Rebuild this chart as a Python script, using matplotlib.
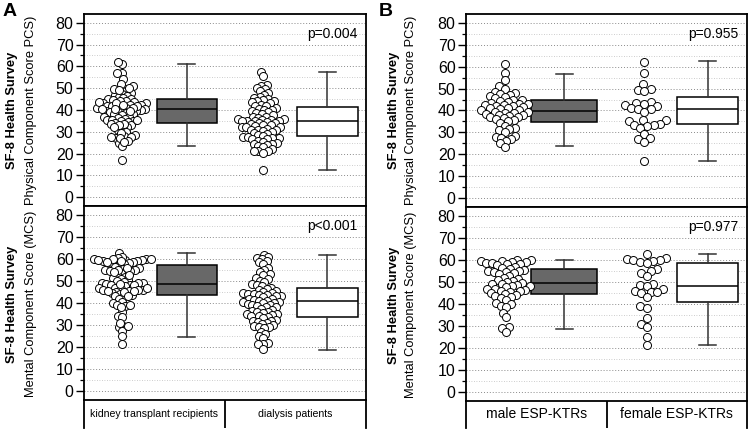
import numpy as np
import matplotlib
matplotlib.use("Agg")
import matplotlib.pyplot as plt
from matplotlib.ticker import MultipleLocator

plt.rcParams['font.family'] = ['Liberation Sans', 'DejaVu Sans']

# ---------------- data ----------------
male_pcs = [61, 57, 54, 51, 50, 48.5, 48, 47.5, 47, 46.5, 46, 45.5, 45, 45, 44.5, 44,
            43.5, 43, 43, 42.5, 42.5, 42, 42, 41.5, 41, 41, 40.5, 40, 40, 39.5, 39.5,
            39, 39, 38.5, 38, 38, 37.5, 37, 37, 36.5, 36, 35.5, 35, 34.5, 33, 32, 31.5,
            31, 30, 28.5, 28, 27.5, 27, 26, 25, 23.5]
female_pcs = [62, 57, 52, 50, 49.5, 49, 44, 43.5, 43, 42.5, 42, 41, 40.5, 40.5, 39.5,
              35.5, 35.5, 35, 34, 33.5, 33.5, 33, 32, 29.5, 27.5, 27, 25.5, 17]
male_mcs = [60, 60, 59.5, 59.5, 59, 59, 58.5, 58.5, 58, 58, 57.5, 57, 56.5, 56,
            55.5, 55, 55, 54.5, 54.5, 54, 53.5, 52.5, 52, 51.5, 51, 50.5, 50, 49.5,
            49, 49, 48.5, 48, 48, 47.5, 47, 47, 46.5, 46, 46, 45.5, 45, 44.5,
            44, 43.5, 43, 42.5, 42, 40.5, 40, 39, 38.5, 36, 34, 29.5, 29, 27.5]
female_mcs = [62.5, 61, 60.5, 60, 60, 59.5, 59, 58.5, 56, 55, 54, 52.5, 49, 48.5,
              48, 47, 46, 45.5, 45.5, 45, 43, 39, 38, 33.5, 31, 29.5, 25, 21.5]
dial_pcs = [57.5, 55.5, 51.5, 51, 50, 49.5, 48.5, 48, 47, 46, 45.5, 45,
            44.5, 44, 44, 43.5, 43, 42.5, 42, 42,
            41, 40.5, 40, 40, 39.5, 39, 38.5, 38, 37.5, 37, 37, 36.5, 36, 36, 35.5,
            35.5, 35, 35, 35, 35,
            34.5, 34, 34, 33.5, 33, 33, 32.5, 32, 32, 32, 31.5, 31, 31, 31, 30.5, 30,
            29.5, 29, 28.5, 28,
            27.5, 27.5, 27, 27, 26.5, 26.5, 26, 25.5, 25, 24.5, 24.5, 24, 23.5, 23, 22,
            21, 21, 21, 20.5, 12.5]
dial_mcs = [62, 61, 60.5, 60, 59, 58.5, 57.5, 56, 55, 54, 53, 52.5, 51.5, 51, 50, 49.5,
            48.5, 48, 47.5, 47,
            46.5, 46, 45.5, 45, 44.5, 44.5, 44, 44, 43.5, 43.5, 43, 43, 42.5, 42, 42,
            41.5, 41, 41, 40.5, 40.5,
            40, 40, 39.5, 39, 39, 38.5, 38, 38, 37.5, 37, 36.5, 36, 36, 35.5, 35, 35,
            34.5, 34, 34, 33.5,
            33, 32.5, 32, 32, 31.5, 31, 30.5, 30, 29.5, 29, 29, 28.5, 27, 26, 25, 24,
            22, 21.5, 21.5, 19]
ktr_pcs = male_pcs + female_pcs
ktr_mcs = male_mcs + female_mcs

# box statistics: whisker low, Q1, median, Q3, whisker high
ktr_pcs_box = [23.5, 34, 40.3, 45, 61]
dial_pcs_box = [12.5, 28, 34.8, 41.5, 57.5]
ktr_mcs_box = [24.7, 43.8, 48.6, 57.1, 62.8]
dial_mcs_box = [18.9, 33.8, 40.8, 46.9, 61.8]
male_pcs_box = [23.7, 34.9, 39.9, 44.9, 56.7]
female_pcs_box = [16.8, 33.8, 40.5, 46, 62.6]
male_mcs_box = [28.8, 44.6, 49.3, 56, 60]
female_mcs_box = [21.2, 41.1, 48.3, 58.8, 62.9]

cats_a = ['kidney transplant recipients', 'dialysis patients']
cats_b = ['male ESP-KTRs', 'female ESP-KTRs']
pvals = ['p=0.004', 'p<0.001', 'p=0.955', 'p=0.977']
ylab_bold = 'SF-8 Health Survey'
ylab_top = 'Physical Component Score PCS)'
ylab_bot = 'Mental Component Score (MCS)'

# ---------------- figure ----------------
W, H = 752, 434
fig = plt.figure(figsize=(W / 100, H / 100), dpi=100)


def rect(x0, x1, y0, y1):
    return [x0 / W, 1 - y1 / H, (x1 - x0) / W, (y1 - y0) / H]


GRAY = '#686868'
LW = 1.3
DIAM = 8.0  # marker diameter in px


def swarm_x(ax, vals, center, dmin):
    vals = np.asarray(vals, float)
    order = np.argsort(vals)
    cx_px = ax.transData.transform((center, 0))[0]
    ypx = ax.transData.transform(np.column_stack([np.full(len(vals), center), vals]))[:, 1]
    placed = []
    offs = np.zeros(len(vals))
    for i in order:
        y = ypx[i]
        cands = [0.0]
        for (px, py) in placed:
            dy = abs(y - py)
            if dy < dmin:
                dx = np.sqrt(dmin * dmin - dy * dy)
                cands += [px - dx, px + dx]
        cands.sort(key=abs)
        for c in cands:
            ok = True
            for (px, py) in placed:
                if (c - px) ** 2 + (y - py) ** 2 < dmin * dmin - 1e-6:
                    ok = False
                    break
            if ok:
                break
        placed.append((c, y))
        offs[i] = c
    pts = np.column_stack([cx_px + offs, ypx])
    return ax.transData.inverted().transform(pts)


def draw(ax, groups, boxes, swarm_pos, box_pos, box_w, dmins, ptxt):
    ax.set_xlim(0, 2)
    ax.set_ylim(-4, 84)
    ax.yaxis.set_major_locator(MultipleLocator(10))
    ax.yaxis.set_minor_locator(MultipleLocator(5))
    ax.tick_params(axis='y', which='major', length=5.5, width=1.0, labelsize=11.5, pad=2)
    ax.tick_params(axis='y', which='minor', length=3, width=0.9)
    ax.grid(axis='y', which='major', ls=(0, (1, 2)), color='#8a8a8a', lw=0.7)
    ax.grid(axis='y', which='minor', ls=(0, (1, 2)), color='#bdbdbd', lw=0.6)
    ax.set_axisbelow(True)
    for s in ax.spines.values():
        s.set_linewidth(LW)
    stats = [dict(whislo=b[0], q1=b[1], med=b[2], q3=b[3], whishi=b[4], fliers=[]) for b in boxes]
    bp = ax.bxp(stats, positions=box_pos, widths=box_w, patch_artist=True, showfliers=False,
                capwidths=0.12, manage_ticks=False,
                boxprops=dict(edgecolor='black', linewidth=1.1),
                medianprops=dict(color='black', linewidth=1.1),
                whiskerprops=dict(color='#333333', linewidth=1.1),
                capprops=dict(color='#333333', linewidth=1.1))
    bp['boxes'][0].set_facecolor(GRAY)
    bp['boxes'][1].set_facecolor('white')
    ax.set_xticks([])
    ax.set_xlim(0, 2)
    for vals, c, d in zip(groups, swarm_pos, dmins):
        xy = swarm_x(ax, vals, c, d)
        ax.scatter(xy[:, 0], xy[:, 1], s=(DIAM * 0.72) ** 2, facecolor='white',
                   edgecolor='black', linewidths=0.7, zorder=3)
    ax.text(1.94, 75, ptxt, ha='right', va='center', fontsize=10)


def strip(x0, x1, y0, y1, cats, fs):
    ax = fig.add_axes(rect(x0, x1, y0, y1))
    ax.set_xlim(0, 2)
    ax.set_ylim(0, 1)
    ax.set_xticks([])
    ax.set_yticks([])
    ax.spines['top'].set_visible(False)
    ax.spines['bottom'].set_visible(False)
    for s in ('left', 'right'):
        ax.spines[s].set_linewidth(LW)
    ax.axvline(1, color='black', lw=LW)
    for i, c in enumerate(cats):
        ax.text(i + 0.5, 0.5, c, ha='center', va='center', fontsize=fs)
    ax.patch.set_alpha(0)


# Panel A
axA1 = fig.add_axes(rect(84, 366, 14, 206))
axA2 = fig.add_axes(rect(84, 366, 206, 400))
draw(axA1, [ktr_pcs, dial_pcs], [ktr_pcs_box, dial_pcs_box], [0.27, 1.27], [0.73, 1.725],
     [0.43, 0.43], [4.6, 4.8], pvals[0])
draw(axA2, [ktr_mcs, dial_mcs], [ktr_mcs_box, dial_mcs_box], [0.27, 1.27], [0.73, 1.725],
     [0.43, 0.43], [4.6, 4.8], pvals[1])
strip(84, 366, 400, 428, cats_a, 7.6)

# Panel B
axB1 = fig.add_axes(rect(466, 747, 14, 207))
axB2 = fig.add_axes(rect(466, 747, 207, 401))
draw(axB1, [male_pcs, female_pcs], [male_pcs_box, female_pcs_box], [0.275, 1.27], [0.70, 1.72],
     [0.47, 0.43], [5.6, 6.8], pvals[2])
draw(axB2, [male_mcs, female_mcs], [male_mcs_box, female_mcs_box], [0.285, 1.285], [0.70, 1.72],
     [0.47, 0.43], [5.6, 6.8], pvals[3])
strip(466, 747, 401, 428, cats_b, 10)

# y-axis labels
for xb, xn, yc, txt in [(12, 31, 110, ylab_top), (12, 31, 304, ylab_bot),
                        (394, 411, 110, ylab_top), (394, 411, 305, ylab_bot)]:
    fig.text(xb / W, 1 - yc / H, ylab_bold, rotation=90, ha='center', va='center',
             fontsize=9.3, fontweight='bold')
    fig.text(xn / W, 1 - yc / H, txt, rotation=90, ha='center', va='center', fontsize=9.3)

fig.text(3 / W, 1 - 12 / H, 'A', fontsize=14, fontweight='bold', ha='left', va='center')
fig.text(379 / W, 1 - 12 / H, 'B', fontsize=14, fontweight='bold', ha='left', va='center')

fig.savefig('out.png', dpi=100)
